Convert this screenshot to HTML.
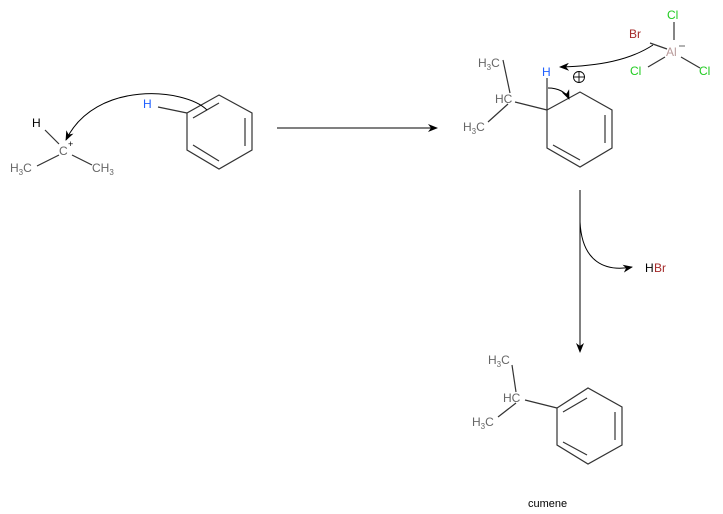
<!DOCTYPE html>
<html><head><meta charset="utf-8"><style>
html,body{margin:0;padding:0;background:#fff;width:723px;height:514px;overflow:hidden}
svg{display:block}
text{font-family:"Liberation Sans",sans-serif;font-size:12px}
.g{fill:#666}
.k{fill:#000}
</style></head><body>
<svg width="723" height="514" viewBox="0 0 723 514" xmlns="http://www.w3.org/2000/svg">
<defs><marker id="ah" markerWidth="10" markerHeight="8" refX="9" refY="4" orient="auto" markerUnits="userSpaceOnUse"><path d="M0,0 L10,4 L0,8 L3,4 Z" fill="#000"/></marker></defs>
<g stroke="#333" stroke-width="1.2" fill="none">
<!-- left benzene -->
<polygon points="219,95 252,113 252,150 219,169 187,150 187,113"/>
<line x1="245" y1="118" x2="245" y2="146"/>
<line x1="193" y1="145" x2="219" y2="161"/>
<line x1="193" y1="118" x2="219" y2="103"/>
<line x1="158" y1="107" x2="187" y2="113"/>
<!-- carbocation bonds -->
<line x1="45" y1="130" x2="59" y2="144"/>
<line x1="59" y1="155" x2="37" y2="166"/>
<line x1="72" y1="155" x2="92" y2="165"/>
<!-- middle ring -->
<polyline points="547,110 580,92 612,110 612,148 580,167 547,148 547,110"/>
<line x1="605" y1="115" x2="605" y2="143"/>
<line x1="553" y1="145" x2="580" y2="160"/>
<line x1="547" y1="78" x2="547" y2="110"/>
<line x1="515" y1="102" x2="547" y2="110"/>
<line x1="503" y1="60" x2="510" y2="93"/>
<line x1="508" y1="104" x2="488" y2="122"/>
<!-- AlBrCl3 bonds -->
<line x1="650" y1="43" x2="667" y2="49"/>
<line x1="674" y1="22" x2="674" y2="40"/>
<line x1="648" y1="67" x2="665" y2="57"/>
<line x1="681" y1="57" x2="700" y2="68"/>
<!-- bottom ring -->
<polygon points="557,408 588,388 622,407 622,445 588,464 557,445"/>
<line x1="563" y1="412" x2="587" y2="398"/>
<line x1="615" y1="412" x2="615" y2="440"/>
<line x1="563" y1="442" x2="587" y2="455"/>
<line x1="525" y1="400" x2="557" y2="408"/>
<line x1="512" y1="365" x2="516" y2="392"/>
<line x1="516" y1="403" x2="498" y2="417"/>
</g>
<g stroke="#000" stroke-width="1" fill="none">
<path d="M207,110 C185,88 95,80 66,140" marker-end="url(#ah)"/>
<line x1="277" y1="128" x2="437" y2="128" marker-end="url(#ah)"/>
<path d="M653,45 C630,60 600,66 560,67" marker-end="url(#ah)"/>
<path d="M548,88 C558,88 566,92 569,99" marker-end="url(#ah)"/>
<line x1="580" y1="190" x2="580" y2="352" marker-end="url(#ah)"/>
<path d="M580,222 C582,262 605,272 632,267" marker-end="url(#ah)"/>
</g>
<!-- labels -->
<text x="32" y="127" class="k">H</text>
<text x="59" y="155" class="g">C</text>
<text x="68" y="147" class="k" style="font-size:9px">+</text>
<text x="10" y="172" class="g">H<tspan font-size="8" dy="3">3</tspan><tspan dy="-3">C</tspan></text>
<text x="92" y="172" class="g">CH<tspan font-size="8" dy="3">3</tspan></text>
<text x="143" y="108" fill="#2060ff">H</text>
<text x="478" y="67" class="g">H<tspan font-size="8" dy="3">3</tspan><tspan dy="-3">C</tspan></text>
<text x="495" y="103" class="g">HC</text>
<text x="463" y="131" class="g">H<tspan font-size="8" dy="3">3</tspan><tspan dy="-3">C</tspan></text>
<text x="542" y="76" fill="#2060ff">H</text>
<circle cx="579" cy="77" r="5.5" fill="none" stroke="#000" stroke-width="0.9"/>
<line x1="573.5" y1="77" x2="584.5" y2="77" stroke="#000" stroke-width="0.9"/>
<line x1="579" y1="71.5" x2="579" y2="82.5" stroke="#000" stroke-width="0.9"/>
<text x="629" y="38" fill="#a52a2a">Br</text>
<text x="667" y="19" fill="#22cc22">Cl</text>
<text x="666" y="56" fill="#b89a9a">Al</text>
<line x1="679" y1="46" x2="685" y2="46" stroke="#666" stroke-width="1"/>
<text x="630" y="75" fill="#22cc22">Cl</text>
<text x="699" y="75" fill="#22cc22">Cl</text>
<text x="645" y="272" class="k">H</text>
<text x="654" y="272" fill="#a52a2a">Br</text>
<text x="488" y="364" class="g">H<tspan font-size="8" dy="3">3</tspan><tspan dy="-3">C</tspan></text>
<text x="503" y="402" class="g">HC</text>
<text x="472" y="426" class="g">H<tspan font-size="8" dy="3">3</tspan><tspan dy="-3">C</tspan></text>
<text x="528" y="507" class="k" style="font-size:11px">cumene</text>
</svg>
</body></html>
